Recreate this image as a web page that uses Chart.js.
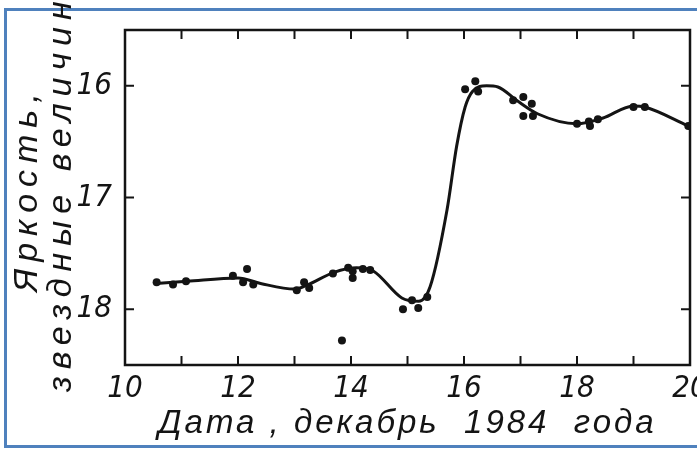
<!DOCTYPE html>
<html>
<head>
<meta charset="utf-8">
<script src="https://cdn.jsdelivr.net/npm/chart.js@4.4.0/dist/chart.umd.min.js"></script>
<style>
  html, body { margin: 0; padding: 0; background: #fff; overflow: hidden; }
  #frame { position: absolute; left: 4px; top: 8px; width: 800px; height: 434px; border: 3px solid #4f81bd; }
  #wrap { position: absolute; left: 0; top: 0; width: 697px; height: 451px; }
</style>
</head>
<body>
<div id="frame"></div>
<div id="wrap"><canvas id="lightCurve" width="697" height="451"></canvas></div>
<script>
// observations, December 1984 (day of month, stellar magnitude)
const obsDays = [10.56, 10.85, 11.08, 11.91, 12.09, 12.16, 12.27, 13.04, 13.17, 13.26,
  13.68, 13.84, 13.95, 14.03, 14.03, 14.21, 14.34, 14.92, 15.08, 15.19, 15.35,
  16.02, 16.20, 16.25, 16.87, 17.05, 17.20, 17.05, 17.22, 18.00, 18.21, 18.23, 18.37,
  19.00, 19.20, 19.97];
const obsMags = [17.76, 17.78, 17.75, 17.70, 17.76, 17.64, 17.78, 17.83, 17.76, 17.81,
  17.68, 18.28, 17.63, 17.66, 17.72, 17.64, 17.65, 18.00, 17.92, 17.99, 17.89,
  16.03, 15.96, 16.05, 16.13, 16.10, 16.16, 16.27, 16.27, 16.34, 16.32, 16.36, 16.30,
  16.19, 16.19, 16.36];

// hand-drawn mean curve
const curveDays = [10.55, 11.1, 12.0, 12.4, 13.0, 13.2, 13.7, 14.1, 14.4, 14.9, 15.2, 15.4,
  15.7, 15.87, 16.02, 16.15, 16.4, 16.6, 16.93, 17.3, 18.0, 18.45, 19.0, 19.2, 19.97];
const curveMags = [17.77, 17.75, 17.72, 17.77, 17.82, 17.79, 17.67, 17.63, 17.66, 17.90, 17.93, 17.80,
  17.11, 16.54, 16.19, 16.05, 16.00, 16.01, 16.13, 16.25, 16.34, 16.29, 16.18, 16.19, 16.36];

const dayLabels = [10, 12, 14, 16, 18, 20];
const dayMarks = [11, 12, 13, 14, 15, 16, 17, 18, 19];
const magTicks = [16, 17, 18];

const xCaption = 'Дата , декабрь  1984  года';
const yCaption = ['Яркость,', 'звездные величины'];

const INK = '#141414';
const tickFont = { family: "'Liberation Sans Narrow', 'DejaVu Sans Condensed', sans-serif", size: 31, style: 'italic' };

const frameAndCaptions = {
  id: 'frameAndCaptions',
  afterDatasetsDraw(chart) {
    const { ctx, chartArea: a, scales: { x, y } } = chart;
    const tickLen = 9;
    ctx.save();
    ctx.strokeStyle = INK;
    ctx.lineWidth = 2.5;
    ctx.strokeRect(a.left, a.top, a.right - a.left, a.bottom - a.top);

    ctx.lineWidth = 2;
    ctx.beginPath();
    dayMarks.forEach((d) => {
      const px = x.getPixelForValue(d);
      ctx.moveTo(px, a.bottom); ctx.lineTo(px, a.bottom - tickLen);
      ctx.moveTo(px, a.top); ctx.lineTo(px, a.top + tickLen);
    });
    magTicks.forEach((m) => {
      const py = y.getPixelForValue(m);
      ctx.moveTo(a.left, py); ctx.lineTo(a.left + tickLen, py);
      ctx.moveTo(a.right, py); ctx.lineTo(a.right - tickLen, py);
    });
    ctx.stroke();

    ctx.fillStyle = INK;
    ctx.textBaseline = 'middle';
    ctx.font = 'italic 33px "Liberation Sans", sans-serif';
    ctx.letterSpacing = '3px';
    ctx.textAlign = 'center';
    ctx.fillText(xCaption, (a.left + a.right) / 2, 424);

    ctx.font = 'italic 34px "Liberation Sans", sans-serif';
    ctx.letterSpacing = '7px';
    ctx.textAlign = 'left';
    ctx.translate(28, 292);
    ctx.rotate(-Math.PI / 2);
    ctx.fillText(yCaption[0], 0, 0);
    ctx.fillText(yCaption[1], -100, 34);
    ctx.restore();
  }
};

new Chart(document.getElementById('lightCurve'), {
  type: 'scatter',
  data: {
    datasets: [
      {
        data: obsDays.map((d, i) => ({ x: d, y: obsMags[i] })),
        pointRadius: 4,
        pointBackgroundColor: INK,
        pointBorderWidth: 0,
        showLine: false
      },
      {
        type: 'line',
        data: curveDays.map((d, i) => ({ x: d, y: curveMags[i] })),
        borderColor: INK,
        borderWidth: 3,
        pointRadius: 0,
        fill: false,
        cubicInterpolationMode: 'monotone'
      }
    ]
  },
  options: {
    responsive: false,
    animation: false,
    devicePixelRatio: 1,
    layout: { padding: { top: 30, right: 7, left: 0, bottom: 0 } },
    plugins: { legend: { display: false }, tooltip: { enabled: false } },
    scales: {
      x: {
        type: 'linear',
        min: 10,
        max: 20,
        afterFit(s) { s.height = 86; s.paddingLeft = 0; s.paddingRight = 0; },
        afterBuildTicks(s) { s.ticks = dayLabels.map((v) => ({ value: v })); },
        grid: { display: false, drawTicks: false },
        border: { display: false },
        ticks: { padding: 5, color: INK, font: tickFont, maxRotation: 0, autoSkip: false }
      },
      y: {
        type: 'linear',
        reverse: true,
        min: 15.5,
        max: 18.5,
        afterFit(s) { s.width = 125; s.paddingTop = 0; s.paddingBottom = 0; },
        afterBuildTicks(s) { s.ticks = magTicks.map((v) => ({ value: v })); },
        grid: { display: false, drawTicks: false },
        border: { display: false },
        ticks: { padding: 13, color: INK, font: tickFont }
      }
    }
  },
  plugins: [frameAndCaptions]
});
</script>
</body>
</html>
